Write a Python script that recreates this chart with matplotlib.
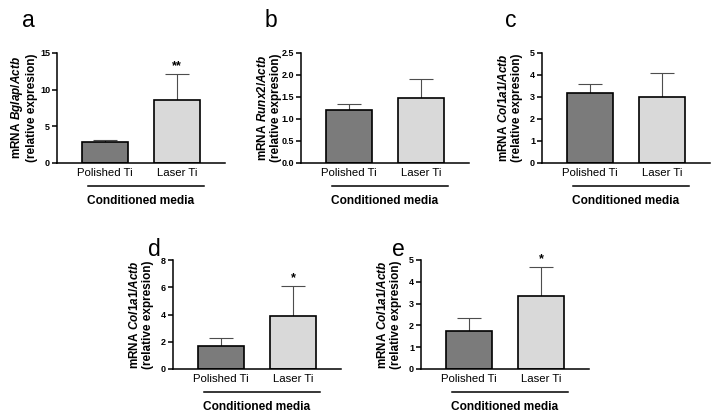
import numpy as np
import matplotlib
matplotlib.use("Agg")
import matplotlib.pyplot as plt
import matplotlib.transforms as mtransforms

plt.rcParams["font.family"] = "Liberation Sans"
plt.rcParams["mathtext.fontset"] = "custom"
plt.rcParams["mathtext.rm"] = "Liberation Sans:bold"
plt.rcParams["mathtext.it"] = "Liberation Sans:italic:bold"
plt.rcParams["mathtext.bf"] = "Liberation Sans:bold"

# data
groups = ["Polished Ti", "Laser Ti"]

bglap_mean = [2.8, 8.6]
bglap_err = [0.3, 3.6]
runx2_mean = [1.2, 1.47]
runx2_err = [0.15, 0.45]
col1a1_c_mean = [3.2, 3.0]
col1a1_c_err = [0.4, 1.1]
col1a1_d_mean = [1.7, 3.9]
col1a1_d_err = [0.55, 2.2]
col1a1_e_mean = [1.75, 3.35]
col1a1_e_err = [0.57, 1.35]

ticks_a = [0, 5, 10, 15]
ticks_b = [0.0, 0.5, 1.0, 1.5, 2.0, 2.5]
ticks_c = [0, 1, 2, 3, 4, 5]
ticks_d = [0, 2, 4, 6, 8]
ticks_e = [0, 1, 2, 3, 4, 5]

stars_a = ["", "**"]
stars_d = ["", "*"]
stars_e = ["", "*"]

bar_colors = ["#7b7b7b", "#d9d9d9"]

W, H = 717, 420
fig = plt.figure(figsize=(W / 100, H / 100), dpi=100)


def panel(x0, ytop, ybot, means, errs, ticks, fmt, gene, stars, letter, lx, ly):
    ax = fig.add_axes([x0 / W, (H - ybot) / H, 168 / W, (ybot - ytop) / H])
    x = np.arange(len(groups))
    ax.errorbar(x, means, yerr=[np.zeros(len(errs)), errs], fmt="none",
                ecolor="#4d4d4d", elinewidth=0.8, capsize=8.6, capthick=0.8, zorder=1)
    ax.bar(x, means, width=0.65, color=bar_colors, edgecolor="black", linewidth=1.2, zorder=2)
    for xi, m, e, s in zip(x, means, errs, stars):
        if s:
            ax.annotate(s, (xi, m + e), xytext=(0, 3.5), textcoords="offset points",
                        ha="center", va="baseline", fontsize=9, fontweight="bold")
    ax.set_xlim(-0.67, 1.67)
    ax.set_ylim(ticks[0], ticks[-1])
    ax.set_yticks(ticks, [fmt.format(t) for t in ticks])
    ax.set_xticks(x, groups)
    ax.spines[["top", "right"]].set_visible(False)
    for sp in ("left", "bottom"):
        ax.spines[sp].set_linewidth(1.1)
    ax.tick_params(axis="y", length=3.5, width=1.1, labelsize=6.5, pad=1.5)
    ax.tick_params(axis="x", length=0, labelsize=8.2, pad=3.5)
    for lab in ax.get_yticklabels():
        lab.set_fontweight("bold")
    ax.set_ylabel("mRNA $\\mathit{" + gene + "}$\n(relative expresion)",
                  fontsize=8.5, fontweight="bold", linespacing=1.1)
    ax.yaxis.set_label_coords(-0.115, 0.5)

    trans = mtransforms.blended_transform_factory(ax.transData, ax.transAxes)
    ax.plot([-0.24, 1.38], [-0.21, -0.21], color="black", lw=1.1,
            transform=trans, clip_on=False)
    ax.text(0.5, -0.345, "Conditioned media", transform=trans, ha="center",
            va="center", fontsize=8.6, fontweight="bold")
    fig.text(lx / W, (H - ly) / H, letter, fontsize=16.5, va="baseline", ha="left")
    return ax


panel(57, 53, 163, bglap_mean, bglap_err, ticks_a, "{:g}", "Bglap/Actb", stars_a, "a", 22, 27)
panel(301, 53, 163, runx2_mean, runx2_err, ticks_b, "{:.1f}", "Runx2/Actb", ["", ""], "b", 265, 27)
panel(542, 53, 163, col1a1_c_mean, col1a1_c_err, ticks_c, "{:g}", "Col1a1/Actb", ["", ""], "c", 505, 27)
panel(173, 260, 369, col1a1_d_mean, col1a1_d_err, ticks_d, "{:g}", "Col1a1/Actb", stars_d, "d", 148, 256)
panel(421, 260, 369, col1a1_e_mean, col1a1_e_err, ticks_e, "{:g}", "Col1a1/Actb", stars_e, "e", 392, 256)

fig.savefig("out.png", dpi=100)
